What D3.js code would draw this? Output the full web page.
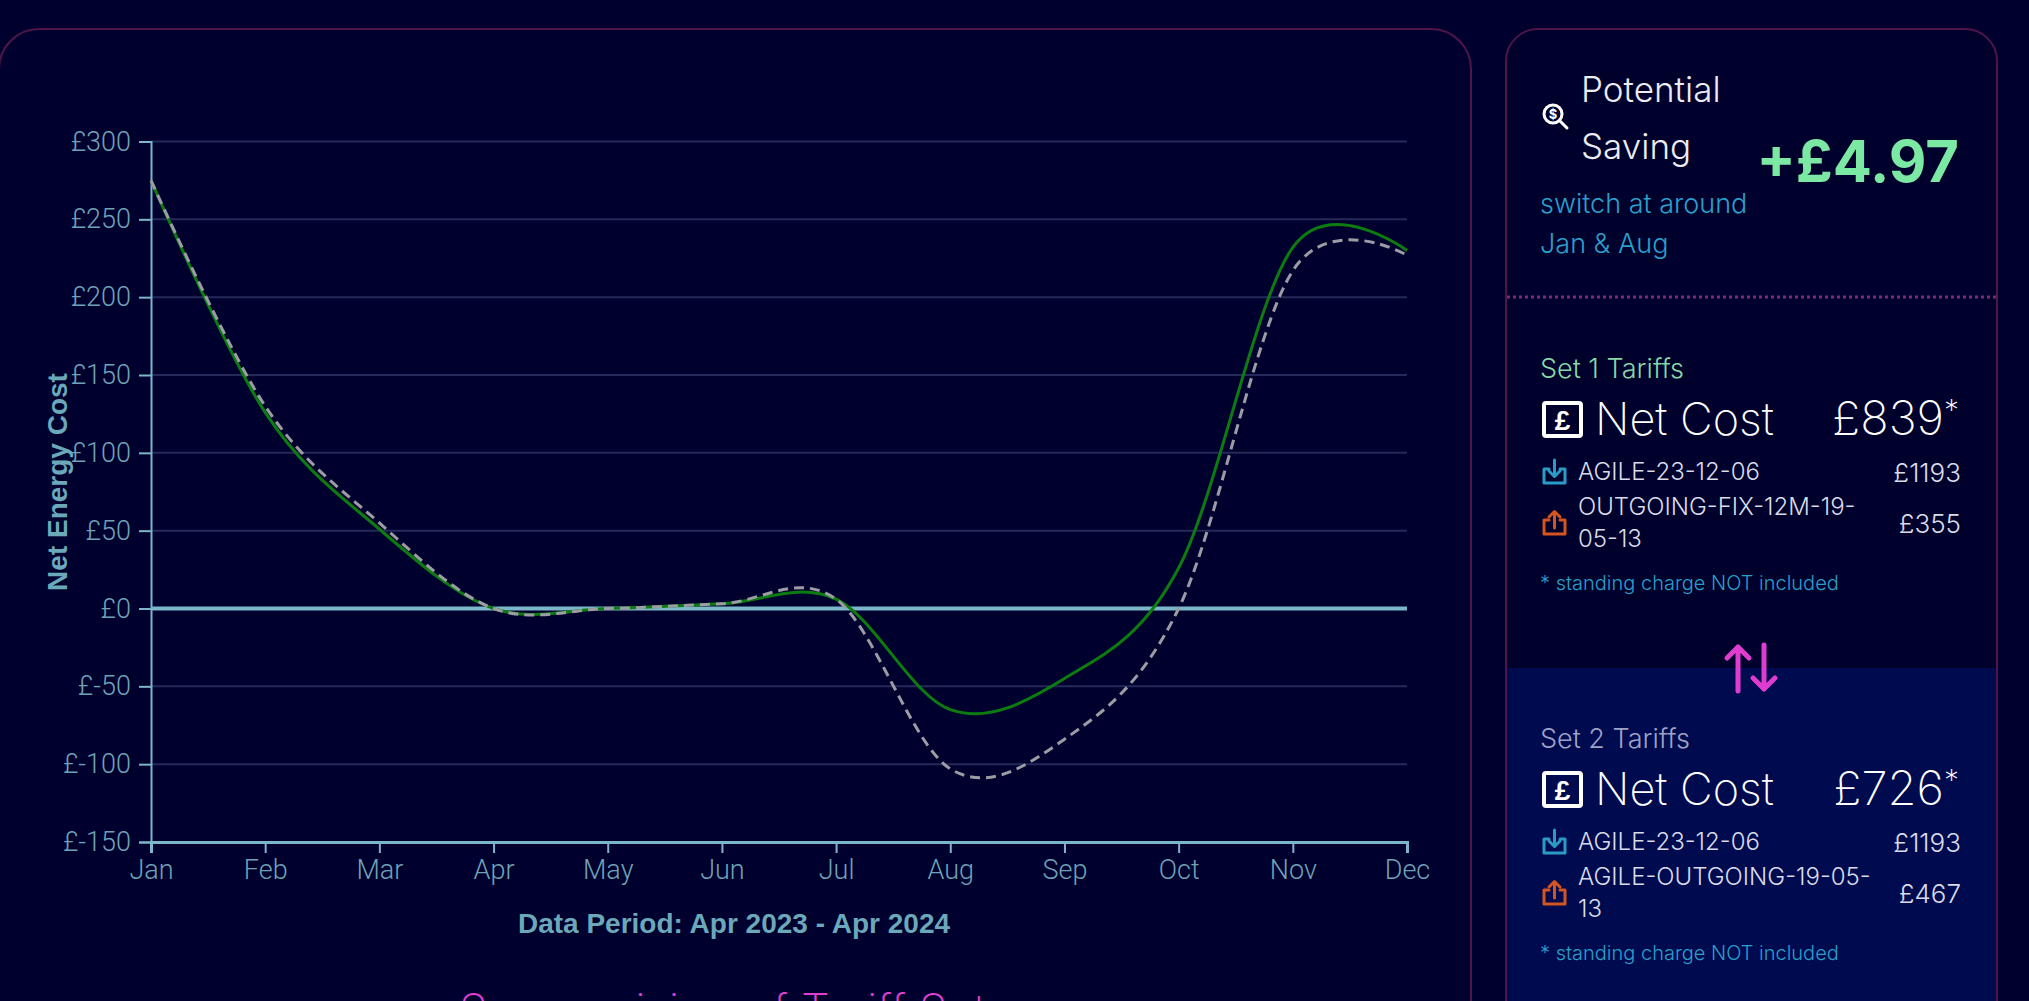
<!DOCTYPE html>
<html>
<head>
<meta charset="utf-8">
<script src="https://cdn.jsdelivr.net/npm/d3@7/dist/d3.min.js"></script>
<style>
body{margin:0;background:#00002e;overflow:hidden}
</style>
</head>
<body>
<script>
var months=["Jan","Feb","Mar","Apr","May","Jun","Jul","Aug","Sep","Oct","Nov","Dec"]
var set1Cost=[275,126,51,0,0,3,6,-65,-45,26,232,230]
var set2Cost=[275,130,55,0,0,3,6,-103,-84,0,217,227]
var yTicks=[-150,-100,-50,0,50,100,150,200,250,300]
var setNames=["Set 1 Tariffs","Set 2 Tariffs"]
var netCosts=[839,726]
var set1Tariffs=[{name:["AGILE-23-12-06"],cost:1193,dir:"in"},{name:["OUTGOING-FIX-12M-19-","05-13"],cost:355,dir:"out"}]
var set2Tariffs=[{name:["AGILE-23-12-06"],cost:1193,dir:"in"},{name:["AGILE-OUTGOING-19-05-","13"],cost:467,dir:"out"}]
var savingText="+£4.97"
var switchText=["switch at around","Jan & Aug"]

var screen={width:2029,height:1001}
var lightFont="Inter, 'Noto Sans', sans-serif"
var tickFont="Roboto, 'Liberation Sans', sans-serif"
var boldFont="'Liberation Sans', Arial, sans-serif"
var axisColor="#7bb6c9"

var svg=d3.select("body").append("svg")
          .attr("width",screen.width)
          .attr("height",screen.height)

//panels
svg.append("rect")
   .attr("x",-1).attr("y",29).attr("width",1472).attr("height",1100).attr("rx",40)
   .attr("fill","#00002e").attr("stroke","#4f1449").attr("stroke-width",2)
var side=svg.append("g")
side.append("rect")
   .attr("x",1506).attr("y",29).attr("width",491).attr("height",1100).attr("rx",32)
   .attr("fill","#00002c").attr("stroke","#4f1449").attr("stroke-width",2)
side.append("rect")
   .attr("x",1507).attr("y",668).attr("width",489).attr("height",340)
   .attr("fill","#000a4e")

//scales
var xScale=d3.scalePoint()
   .domain(months)
   .range([151,1407])
var yScale=d3.scaleLinear()
   .domain([-150,300])
   .range([842,141.5])

var plot=svg.append("g")
//grid
plot.append("g").selectAll("line")
    .data(yTicks.filter(function(d){return d!=0&&d!=-150}))
    .enter().append("line")
    .attr("x1",151).attr("x2",1407)
    .attr("y1",function(d){return yScale(d)})
    .attr("y2",function(d){return yScale(d)})
    .attr("stroke","#252a5a").attr("stroke-width",2)

//axes
var yAxis=d3.axisLeft(yScale)
            .tickValues(yTicks)
            .tickFormat(function(d){return "£"+d})
            .tickSize(12).tickPadding(8)
var yG=plot.append("g").attr("transform","translate(151,0)").call(yAxis)
var xAxis=d3.axisBottom(xScale).tickSize(11).tickPadding(7)
var xG=plot.append("g").attr("transform","translate(0,842)").call(xAxis)
;[yG,xG].forEach(function(g){
  g.selectAll("path,line").attr("stroke",axisColor).attr("stroke-width",2)
  g.selectAll("text").attr("fill","#6fa2b7").style("font-family",tickFont)
   .style("font-weight",300).style("font-size","27px")
})
xG.select(".domain").attr("stroke-width",3)

//zero line
plot.append("line")
    .attr("x1",151).attr("x2",1407)
    .attr("y1",yScale(0)).attr("y2",yScale(0))
    .attr("stroke",axisColor).attr("stroke-width",4)

//lines
var line=d3.line()
   .x(function(d,i){return xScale(months[i])})
   .y(function(d){return yScale(d)})
   .curve(d3.curveCardinal)
plot.append("path").datum(set1Cost)
    .attr("d",line).attr("fill","none")
    .attr("stroke","#0b7c10").attr("stroke-width",3)
plot.append("path").datum(set2Cost)
    .attr("d",line).attr("fill","none")
    .attr("stroke","#9c9ca4").attr("stroke-width",3)
    .attr("stroke-dasharray","10,6")

//labels
svg.append("text")
   .attr("transform","translate(67,482) rotate(-90)")
   .attr("text-anchor","middle")
   .style("font-family",boldFont)
   .style("font-weight","bold").style("font-size","28px")
   .attr("fill","#6aa8ba")
   .text("Net Energy Cost")
svg.append("text")
   .attr("x",734).attr("y",933)
   .attr("text-anchor","middle")
   .style("font-family",boldFont)
   .style("font-weight","bold").style("font-size","28px")
   .attr("fill","#6aa8ba")
   .text("Data Period: Apr 2023 - Apr 2024")
svg.append("text")
   .attr("x",734).attr("y",1027)
   .attr("text-anchor","middle")
   .style("font-family",lightFont).style("font-weight",200).style("font-size","46px")
   .attr("fill","#dd3fd0")
   .text("Summarising of Tariff Sets")

//saving block
var mag=side.append("g").attr("transform","translate(1553,114)")
mag.append("circle").attr("r",9).attr("fill","none").attr("stroke","#fff").attr("stroke-width",3)
mag.append("text").attr("y",5).attr("text-anchor","middle").attr("fill","#fff")
   .style("font-family",lightFont).style("font-weight",700).style("font-size","13px").text("$")
mag.append("line").attr("x1",7).attr("y1",7).attr("x2",14).attr("y2",14)
   .attr("stroke","#fff").attr("stroke-width",3).attr("stroke-linecap","round")
side.selectAll(".pot").data(["Potential","Saving"]).enter().append("text")
   .attr("x",1581).attr("y",function(d,i){return 102+i*57})
   .style("font-family",lightFont).style("font-weight",300).style("font-size","35px")
   .attr("fill","#ececf4").text(function(d){return d})
side.append("text")
   .attr("x",1959).attr("y",182).attr("text-anchor","end")
   .style("font-family",lightFont).style("font-weight",700).style("font-size","58px")
   .attr("fill","#7be8a3").text(savingText)
side.selectAll(".sw").data(switchText).enter().append("text")
   .attr("x",1540).attr("y",function(d,i){return 213+i*40})
   .style("font-family",lightFont).style("font-weight",300).style("font-size","27px")
   .attr("fill","#2a9fca").text(function(d){return d})
side.append("line")
   .attr("x1",1507).attr("x2",1996).attr("y1",297).attr("y2",297)
   .attr("stroke","#7a2a72").attr("stroke-width",3).attr("stroke-dasharray","3,3")

//arrows
var arr=side.append("g").attr("stroke","#e03cd0").attr("stroke-width",5)
   .attr("stroke-linecap","round").attr("stroke-linejoin","round").attr("fill","none")
arr.append("path").attr("d","M1738,691V647M1727,658L1738,647L1749,658")
arr.append("path").attr("d","M1764,645V689M1753,678L1764,689L1775,678")

var drawTray=function(g,x,y,dir,color){
  var t=g.append("g").attr("transform","translate("+x+","+y+")")
     .attr("fill","none").attr("stroke",color).attr("stroke-width",3)
     .attr("stroke-linecap","round").attr("stroke-linejoin","round")
  t.append("path").attr("d","M7,10H2V24H23V10H18")
  if(dir=="in"){
    t.append("path").attr("d","M12.5,1V17M7,12L12.5,17.5L18,12")
  }else{
    t.append("path").attr("d","M12.5,18V2M7,7L12.5,1.5L18,7")
  }
}

var drawSet=function(top,i,tariffs,labelColor){
  side.append("text").attr("x",1540).attr("y",top)
      .style("font-family",lightFont).style("font-weight",300).style("font-size","27px")
      .attr("fill",labelColor).text(setNames[i])
  side.append("rect").attr("x",1544).attr("y",top+25).attr("width",37).attr("height",33).attr("rx",2)
      .attr("fill","none").attr("stroke","#fff").attr("stroke-width",4)
  side.append("text").attr("x",1562.5).attr("y",top+52).attr("text-anchor","middle")
      .style("font-family",boldFont).style("font-weight","bold").style("font-size","28px")
      .attr("fill","#fff").text("£")
  side.append("text").attr("x",1595).attr("y",top+57)
      .style("font-family",lightFont).style("font-weight",200).style("font-size","45px")
      .attr("fill","#fff").text("Net Cost")
  var total=side.append("text").attr("x",1959).attr("y",top+57).attr("text-anchor","end")
      .style("font-family",lightFont).style("font-weight",200).style("font-size","47px")
      .attr("fill","#fff")
  total.append("tspan").text("£"+netCosts[i])
  total.append("tspan").attr("dy",-14).style("font-size","30px").text("*")
  var rowTop=top+102
  tariffs.forEach(function(t){
    var n=t.name.length
    var mid=rowTop+(n-1)*16
    drawTray(side,1542,mid-21,t.dir,t.dir=="in"?"#2a9bc6":"#d6541e")
    side.append("text").attr("x",1578).attr("y",rowTop)
        .style("font-family",lightFont).style("font-weight",300).style("font-size","24px")
        .attr("fill","#d9dbe9")
        .selectAll("tspan").data(t.name).enter().append("tspan")
        .attr("x",1578).attr("dy",function(d,j){return j==0?0:32})
        .text(function(d){return d})
    side.append("text").attr("x",1961).attr("y",mid+2).attr("text-anchor","end")
        .style("font-family",lightFont).style("font-weight",300).style("font-size","26px")
        .attr("fill","#d9dbe9").text("£"+t.cost)
    rowTop=rowTop+35
  })
  side.append("text").attr("x",1540).attr("y",top+212)
      .style("font-family",lightFont).style("font-weight",300).style("font-size","20px")
      .attr("fill","#2a9fca").text("* standing charge NOT included")
}
drawSet(378,0,set1Tariffs,"#86d8a6")
drawSet(748,1,set2Tariffs,"#9ea2c6")
</script>
</body>
</html>
